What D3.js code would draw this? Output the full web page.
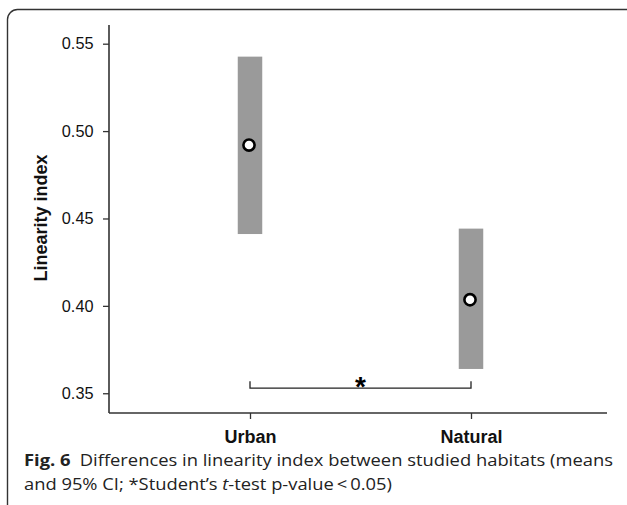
<!DOCTYPE html>
<html>
<head>
<meta charset="utf-8">
<script src="https://cdn.jsdelivr.net/npm/d3@7/dist/d3.min.js"></script>
<style>
  html, body { margin: 0; padding: 0; background: #fff; }
  svg { display: block; }
</style>
</head>
<body>
<script>
// Habitat groups and linearity index summaries (mean with 95% CI)
const habitats = ["Urban", "Natural"];
const means = [0.492, 0.4035];
const ciLow = [0.4411, 0.3639];
const ciHigh = [0.5426, 0.4442];
const yTicks = [0.35, 0.40, 0.45, 0.50, 0.55];
const bracketLevel = 0.3529;

const W = 627, H = 505;
const svg = d3.select("body").append("svg").attr("width", W).attr("height", H);

// outer panel frame
svg.append("rect")
  .attr("x", 7.5).attr("y", 9.5)
  .attr("width", 640).attr("height", 506)
  .attr("rx", 10).attr("ry", 10)
  .attr("fill", "none").attr("stroke", "#333").attr("stroke-width", 1.4);

const axisLeft = 109, axisRight = 607, axisTop = 25, axisBottom = 413;

const y = d3.scaleLinear().domain([0.3387, 0.5607]).range([axisBottom, axisTop]);
const x = d3.scalePoint().domain(habitats).range([250, 471]);

const axisColor = "#333";

// y axis
const gy = svg.append("g").attr("transform", `translate(${axisLeft},0)`)
  .call(d3.axisLeft(y).tickValues(yTicks).tickFormat(d3.format(".2f")).tickSize(6).tickPadding(9.5));
gy.select(".domain").remove();
gy.selectAll(".tick line").attr("stroke", axisColor).attr("stroke-width", 1.3);
gy.selectAll(".tick text")
  .attr("fill", "#111")
  .style("font-family", "'Liberation Sans', Arial, sans-serif")
  .style("font-size", "16.3px");
svg.append("line")
  .attr("x1", axisLeft).attr("x2", axisLeft)
  .attr("y1", axisTop).attr("y2", axisBottom)
  .attr("stroke", axisColor).attr("stroke-width", 1.6);

// x axis
const gx = svg.append("g").attr("transform", `translate(0,${axisBottom})`)
  .call(d3.axisBottom(x).tickSize(6).tickPadding(11));
gx.select(".domain").remove();
gx.selectAll(".tick line").attr("stroke", axisColor).attr("stroke-width", 1.3);
gx.selectAll(".tick text")
  .attr("fill", "#111")
  .style("font-family", "'Liberation Sans', Arial, sans-serif")
  .style("font-weight", "bold")
  .style("font-size", "18px");
svg.append("line")
  .attr("x1", axisLeft).attr("x2", axisRight)
  .attr("y1", axisBottom).attr("y2", axisBottom)
  .attr("stroke", axisColor).attr("stroke-width", 1.6);

// y axis title
svg.append("text")
  .attr("transform", `translate(47,218) rotate(-90)`)
  .attr("text-anchor", "middle")
  .attr("fill", "#111")
  .style("font-family", "'Liberation Sans', Arial, sans-serif")
  .style("font-weight", "bold")
  .style("font-size", "18px")
  .text("Linearity index");

// 95% CI bars
const barW = 24.5;
svg.append("g").selectAll("rect")
  .data(habitats)
  .join("rect")
  .attr("x", (d) => x(d) - barW / 2)
  .attr("y", (d, i) => y(ciHigh[i]))
  .attr("width", barW)
  .attr("height", (d, i) => y(ciLow[i]) - y(ciHigh[i]))
  .attr("fill", "#9a9a9a");

// means
svg.append("g").selectAll("circle")
  .data(habitats)
  .join("circle")
  .attr("cx", (d) => x(d) - 1)
  .attr("cy", (d, i) => y(means[i]))
  .attr("r", 5.6)
  .attr("fill", "#fff")
  .attr("stroke", "#000")
  .attr("stroke-width", 2.6);

// significance bracket
const by = y(bracketLevel);
svg.append("path")
  .attr("d", `M${x("Urban")},${by - 7}V${by}H${x("Natural")}V${by - 7}`)
  .attr("fill", "none").attr("stroke", "#222").attr("stroke-width", 1.3);
svg.append("text")
  .attr("x", (x("Urban") + x("Natural")) / 2)
  .attr("y", by + 8)
  .attr("text-anchor", "middle")
  .attr("fill", "#000")
  .style("font-family", "'Liberation Sans', Arial, sans-serif")
  .style("font-weight", "bold")
  .style("font-size", "28px")
  .text("*");

// caption
const capFont = "'Open Sans', 'Noto Sans', sans-serif";
const cap1 = svg.append("text")
  .attr("x", 24).attr("y", 466)
  .attr("fill", "#222")
  .style("font-family", capFont)
  .style("font-size", "16px")
  .attr("textLength", 589).attr("lengthAdjust", "spacingAndGlyphs");
cap1.append("tspan").style("font-weight", "bold").text("Fig. 6");
cap1.append("tspan").text("\u2002Differences in linearity index between studied habitats (means");

const cap2 = svg.append("text")
  .attr("x", 24).attr("y", 490)
  .attr("fill", "#222")
  .style("font-family", capFont)
  .style("font-size", "16px")
  .attr("textLength", 368).attr("lengthAdjust", "spacingAndGlyphs");
cap2.append("tspan").text("and 95% CI; *Student\u2019s ");
cap2.append("tspan").style("font-style", "italic").text("t");
cap2.append("tspan").text("-test p-value\u2009<\u20090.05)");
</script>
</body>
</html>
